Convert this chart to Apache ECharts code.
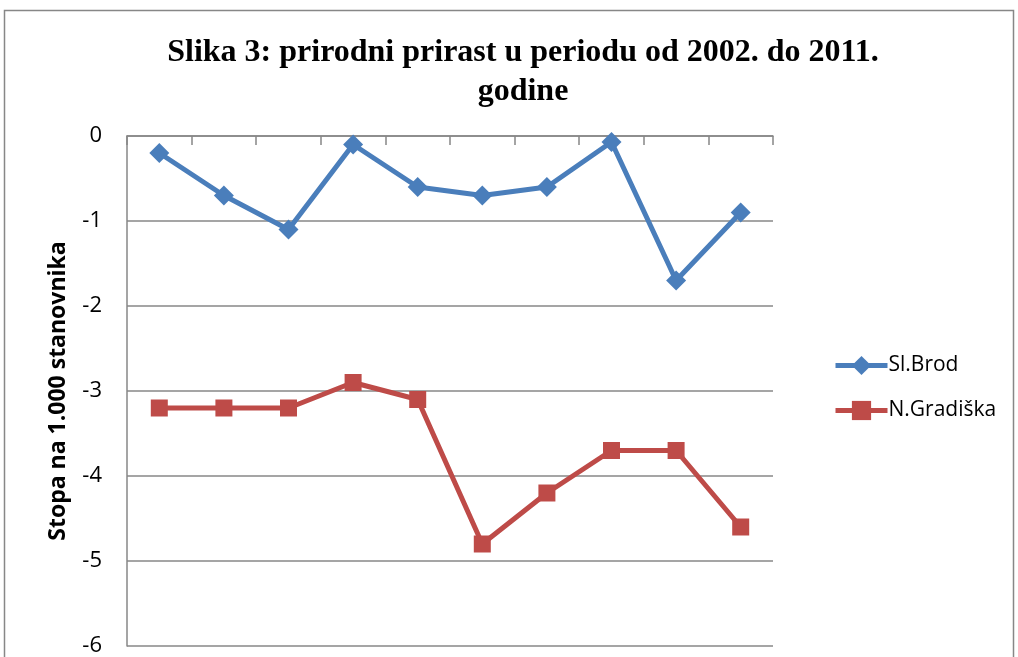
<!DOCTYPE html>
<html>
<head>
<meta charset="utf-8">
<script src="https://cdn.jsdelivr.net/npm/echarts@6/dist/echarts.min.js"></script>
<style>
  html, body { margin: 0; padding: 0; background: #fff; }
  #chart { width: 1018px; height: 657px; }
</style>
</head>
<body>
<div id="chart"></div>
<script>
// years 2002 - 2011
const categories = ['2002', '2003', '2004', '2005', '2006', '2007', '2008', '2009', '2010', '2011']
const slBrod = [-0.2, -0.7, -1.1, -0.1, -0.6, -0.7, -0.6, -0.07, -1.7, -0.9]
const nGradiska = [-3.2, -3.2, -3.2, -2.9, -3.1, -4.8, -4.2, -3.7, -3.7, -4.6]
const yTicks = { min: -6, max: 0, interval: 1 }

const chart = echarts.init(document.getElementById('chart'))
chart.setOption({
  backgroundColor: '#fff',
  animation: false,
  graphic: [{
    type: 'rect',
    shape: { x: 4.5, y: 10.5, width: 1009, height: 700 },
    style: { fill: 'none', stroke: '#878787', lineWidth: 1.5 }
  }],
  title: {
    text: 'Slika 3: prirodni prirast u periodu od 2002. do 2011.\ngodine',
    left: 518,
    top: 28,
    textAlign: 'center',
    textStyle: {
      fontFamily: 'Liberation Serif',
      fontWeight: 'bold',
      fontSize: 32,
      lineHeight: 39,
      color: '#000'
    }
  },
  legend: {
    orient: 'vertical',
    left: 828,
    top: 350,
    itemWidth: 52,
    itemHeight: 24,
    itemGap: 24,
    lineStyle: { width: 5 },
    textStyle: { fontFamily: 'Open Sans', fontSize: 21, color: '#000', padding: [0, 0, 0, -4] },
    data: ['Sl.Brod', 'N.Gradiška']
  },
  grid: {
    left: 127,
    right: 245,
    top: 136,
    bottom: 10,
    containLabel: false
  },
  xAxis: {
    type: 'category',
    position: 'top',
    data: categories,
    boundaryGap: true,
    axisLine: { onZero: false, lineStyle: { color: '#878787', width: 1.5 } },
    axisTick: { show: true, inside: true, length: 9, alignWithLabel: false, lineStyle: { color: '#878787', width: 1.5 } },
    axisLabel: { show: false },
    splitLine: { show: false }
  },
  yAxis: {
    type: 'value',
    min: yTicks.min,
    max: yTicks.max,
    interval: yTicks.interval,
    name: 'Stopa na 1.000 stanovnika',
    nameLocation: 'middle',
    nameGap: 57,
    nameRotate: 90,
    nameTextStyle: { fontFamily: 'Open Sans', fontWeight: 'bold', fontSize: 23, color: '#000' },
    axisLine: { show: true, lineStyle: { color: '#878787', width: 1.5 } },
    axisTick: { show: false },
    axisLabel: { margin: 25, fontFamily: 'Open Sans', fontSize: 22, color: '#000' },
    splitLine: { lineStyle: { color: '#878787', width: 1.5 } }
  },
  series: [{
    name: 'Sl.Brod',
    type: 'line',
    data: slBrod,
    symbol: 'diamond',
    symbolSize: 20,
    lineStyle: { color: '#4A7EBB', width: 5 },
    itemStyle: { color: '#4A7EBB' }
  }, {
    name: 'N.Gradiška',
    type: 'line',
    data: nGradiska,
    symbol: 'rect',
    symbolSize: 17,
    lineStyle: { color: '#BE4B48', width: 5 },
    itemStyle: { color: '#BE4B48' }
  }]
})
</script>
</body>
</html>
